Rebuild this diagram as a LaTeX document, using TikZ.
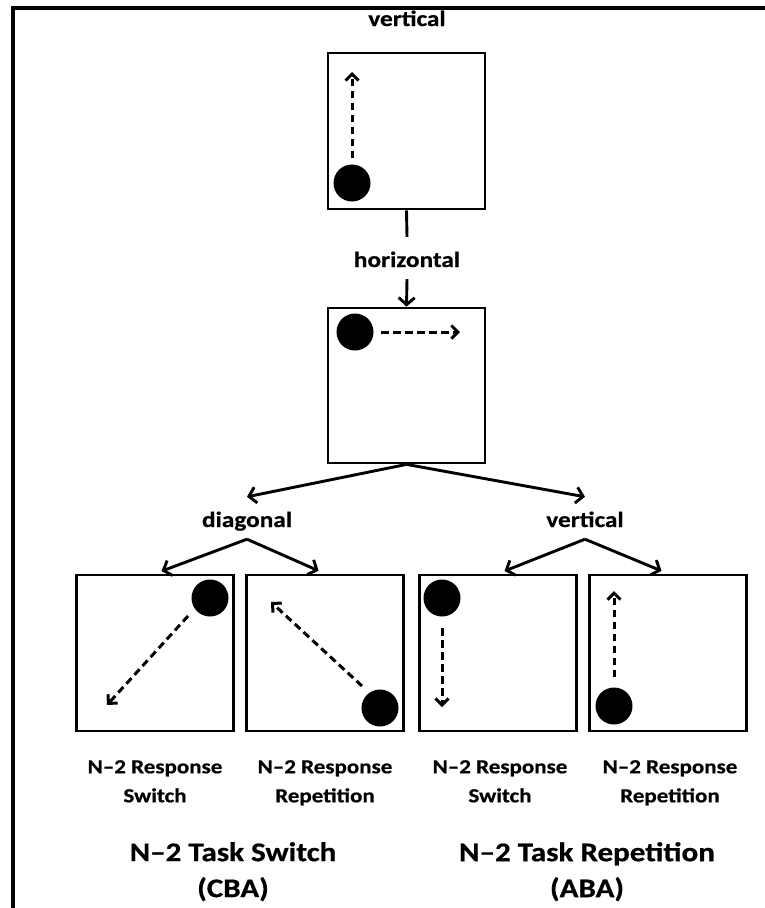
\documentclass[tikz,border=0pt]{standalone}
\usepackage{fontspec}
\setmainfont{Carlito}[FakeStretch=1.15, BoldFeatures={FakeBold=0.6}]
\usetikzlibrary{arrows.meta, positioning}

\begin{document}
\begin{tikzpicture}[x=1pt, y=-1pt, font=\bfseries,
  panel/.style={draw, line width=2.8pt, minimum width=157pt, minimum height=156pt, inner sep=0pt},
  dot/.style={circle, fill=black, minimum size=37pt, inner sep=0pt},
  move/.style={line width=3pt, dash pattern=on 7.5pt off 4.5pt,
    -{Straight Barb[length=6.5pt, width=13pt]}},
  link/.style={line width=2.9pt, -{Straight Barb[length=7pt, width=16pt]}},
  dir/.style={font=\fontsize{22}{26}\selectfont\bfseries, inner sep=0pt,
    text height=30pt, text depth=12pt, anchor=base},
  resp/.style={font=\fontsize{20}{29}\selectfont\bfseries, align=center, inner sep=0pt, anchor=north},
  task/.style={font=\fontsize{27}{36}\selectfont\bfseries, align=center, inner sep=0pt, anchor=north}]
  \useasboundingbox (0,0) rectangle (765,908);

  % frame
  \draw[line width=3.2pt] (13,910) -- (13,8) -- (767,8);

  % upper trials
  \node[dir] (vtop) at (407,26) {vertical};
  \node[panel] (box1) at (406.5,131) {};
  \node[dot] (dot1) at (352,183) {};
  \coordinate (s1) at (352,158);
  \coordinate (e1) at (352,72);
  \draw[move] (s1) -- (e1);

  \node[dir] (horiz) at (407,267) {horizontal};
  \node[panel, minimum height=155pt] (box2) at (406.5,385.5) {};
  \node[dot] (dot2) at (355,332) {};
  \coordinate (s2) at (381,332);
  \coordinate (e2) at (460,332);
  \draw[move] (s2) -- (e2);

  \draw[line width=2.9pt] (box1.south) -- (horiz.north);
  \draw[link] (horiz.south) -- (box2.north);

  % branches
  \node[dir] (diag) at (247,527) {diagonal};
  \node[dir] (vert) at (585,527) {vertical};
  \draw[link] (box2.south) -- (diag.north);
  \draw[link] (box2.south) -- (vert.north);

  % lower trials
  \node[panel] (boxA) at (155,653) {};
  \node[panel] (boxB) at (325,653) {};
  \node[panel] (boxC) at (498,653) {};
  \node[panel] (boxD) at (668,653) {};

  \draw[link, shorten >=7pt] (diag.south) -- (boxA.north);
  \draw[link, shorten >=7pt] (diag.south) -- (boxB.north);
  \draw[link, shorten >=7pt] (vert.south) -- (boxC.north);
  \draw[link, shorten >=7pt] (vert.south) -- (boxD.north);

  \node[dot] (dotA) at (210,598) {};
  \coordinate (sA) at (188,616);
  \coordinate (eA) at (107,705);
  \draw[move] (sA) -- (eA);

  \node[dot] (dotB) at (380,708) {};
  \coordinate (sB) at (362,686);
  \coordinate (eB) at (271,602);
  \draw[move] (sB) -- (eB);

  \node[dot] (dotC) at (442,598) {};
  \coordinate (sC) at (442,628);
  \coordinate (eC) at (442,707);
  \draw[move] (sC) -- (eC);

  \node[dot] (dotD) at (614,706) {};
  \coordinate (sD) at (614,677);
  \coordinate (eD) at (614,591);
  \draw[move] (sD) -- (eD);

  % labels
  \node[resp] (labA) at (155,760) {N--2 Response\\Switch};
  \node[resp] (labB) at (325,760) {N--2 Response\\Repetition};
  \node[resp] (labC) at (500,760) {N--2 Response\\Switch};
  \node[resp] (labD) at (670,760) {N--2 Response\\Repetition};

  \node[task] (cba) at (233,842) {N--2 Task Switch\\(CBA)};
  \node[task] (aba) at (587,842) {N--2 Task Repetition\\(ABA)};
\end{tikzpicture}
\end{document}
